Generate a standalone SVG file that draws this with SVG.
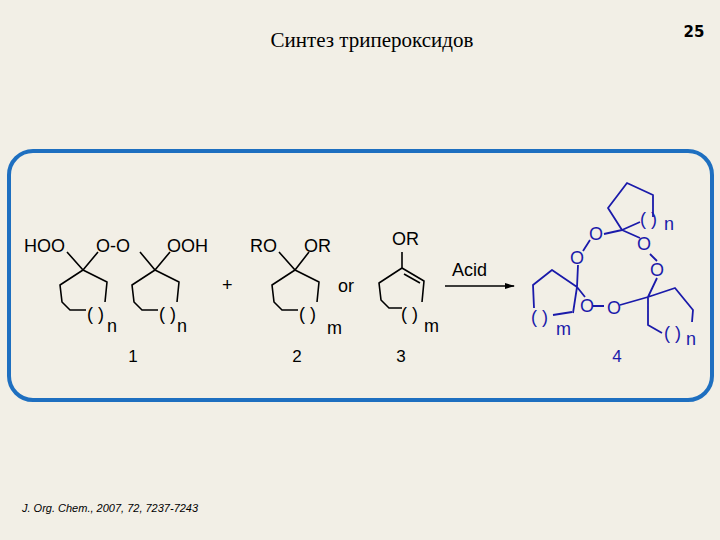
<svg xmlns="http://www.w3.org/2000/svg" width="720" height="540" viewBox="0 0 720 540">
<style>
.b{fill:none;stroke:#000;stroke-width:1.6;stroke-linejoin:round}
.u{fill:none;stroke:#1a1aaa;stroke-width:1.8;stroke-linejoin:round}
.t{font-family:"Liberation Sans",Arial,sans-serif;font-size:18px;fill:#000}
.tu{font-family:"Liberation Sans",Arial,sans-serif;font-size:18px;fill:#1a1aaa}
.l{font-family:"Liberation Sans",Arial,sans-serif;font-size:17px;fill:#000;text-anchor:middle}
</style>
<defs>
<marker id="ah" markerWidth="10" markerHeight="8" refX="9" refY="4" orient="auto" markerUnits="userSpaceOnUse"><path d="M0,1 L10,4 L0,7 Z" fill="#000"/></marker>
<path id="ring" d="M0,0 L-23,15 L-21,32 L-13,40 L3,40 M0,0 L24,12 L22,32"/>
</defs>
<rect width="720" height="540" fill="#f2efe6"/>
<text x="372" y="47" text-anchor="middle" font-family="Liberation Serif,serif" font-size="21">Синтез трипероксидов</text>
<text x="694" y="37" text-anchor="middle" font-family="DejaVu Sans,sans-serif" font-weight="bold" font-size="15">25</text>
<rect x="9" y="151" width="703" height="249" rx="24" fill="none" stroke="#1e6fc0" stroke-width="4"/>
<g id="c1">
<text class="t" x="24" y="252">HOO</text>
<text class="t" x="96" y="252">O-O</text>
<text class="t" x="167" y="252">OOH</text>
<path class="b" d="M67,252 L83,270 L98,252"/><use href="#ring" x="83" y="270" class="b"/>
<text class="t" x="87" y="320">( )</text><text class="t" x="107" y="332">n</text>
<path class="b" d="M140,252 L155,270 L170,252"/><use href="#ring" x="155" y="270" class="b"/>
<text class="t" x="159" y="320">( )</text><text class="t" x="177" y="332">n</text>
<text class="l" x="133" y="362">1</text>
</g>
<text id="plus" class="t" x="222" y="291">+</text>
<g id="c2">
<text class="t" x="250" y="252">RO</text><text class="t" x="304" y="252">OR</text>
<path class="b" d="M279,252 L295,270 L309,252"/><use href="#ring" x="295" y="270" class="b"/>
<text class="t" x="299" y="320">( )</text><text class="t" x="327" y="334">m</text>
<text class="l" x="297" y="362">2</text>
</g>
<text id="or" class="t" x="338" y="292">or</text>
<g id="c3">
<text class="t" x="392" y="245">OR</text>
<path class="b" d="M402,252 L402,268 M402,268 L379,283 L381,300 L389,308 L402,308 M402,268 L424,281 L422,302 M404,274 L420,283"/>
<text class="t" x="401" y="320">( )</text><text class="t" x="424" y="332">m</text>
<text class="l" x="401" y="362">3</text>
</g>
<g id="arrow">
<text class="t" x="452" y="276">Acid</text>
<line class="b" x1="445" y1="286" x2="514" y2="286" marker-end="url(#ah)"/>
</g>
<g id="c4">
<text class="tu" x="589" y="240">O</text>
<text class="tu" x="570" y="264">O</text>
<text class="tu" x="637" y="250">O</text>
<text class="tu" x="650" y="276">O</text>
<text class="tu" x="580" y="312">O</text>
<text class="tu" x="607" y="314">O</text>
<path class="u" d="M622,230 L608,208 L627,183 L653,195 L653,217 M622,230 L640,222 M622,230 L604,234 M622,230 L640,238 M583,251 L590,240 M578,265 L577,287 M650,254 L657,261 M657,278 L648,297 M577,287 L552,270 L533,285 L534,308 M573,313 L577,287 M577,287 L585,297 M593,306 L604,306 M620,305 L648,297 L675,288 L693,310 L692,322 M648,297 L648,325 L662,333"/>
<path class="u" d="M553,315 L572,312"/>
<text class="tu" x="640" y="225">( )</text><text class="tu" x="664" y="230">n</text>
<text class="tu" x="531" y="323">( )</text><text class="tu" x="556" y="335">m</text>
<text class="tu" x="664" y="339">( )</text><text class="tu" x="686" y="345">n</text>
<text class="l" x="617" y="362" fill="#1a1aaa" style="fill:#1a1aaa">4</text>
</g>
<text x="22" y="512" font-family="Liberation Sans,Arial,sans-serif" font-style="italic" font-size="11">J. Org. Chem., 2007, 72, 7237-7243</text>
</svg>
